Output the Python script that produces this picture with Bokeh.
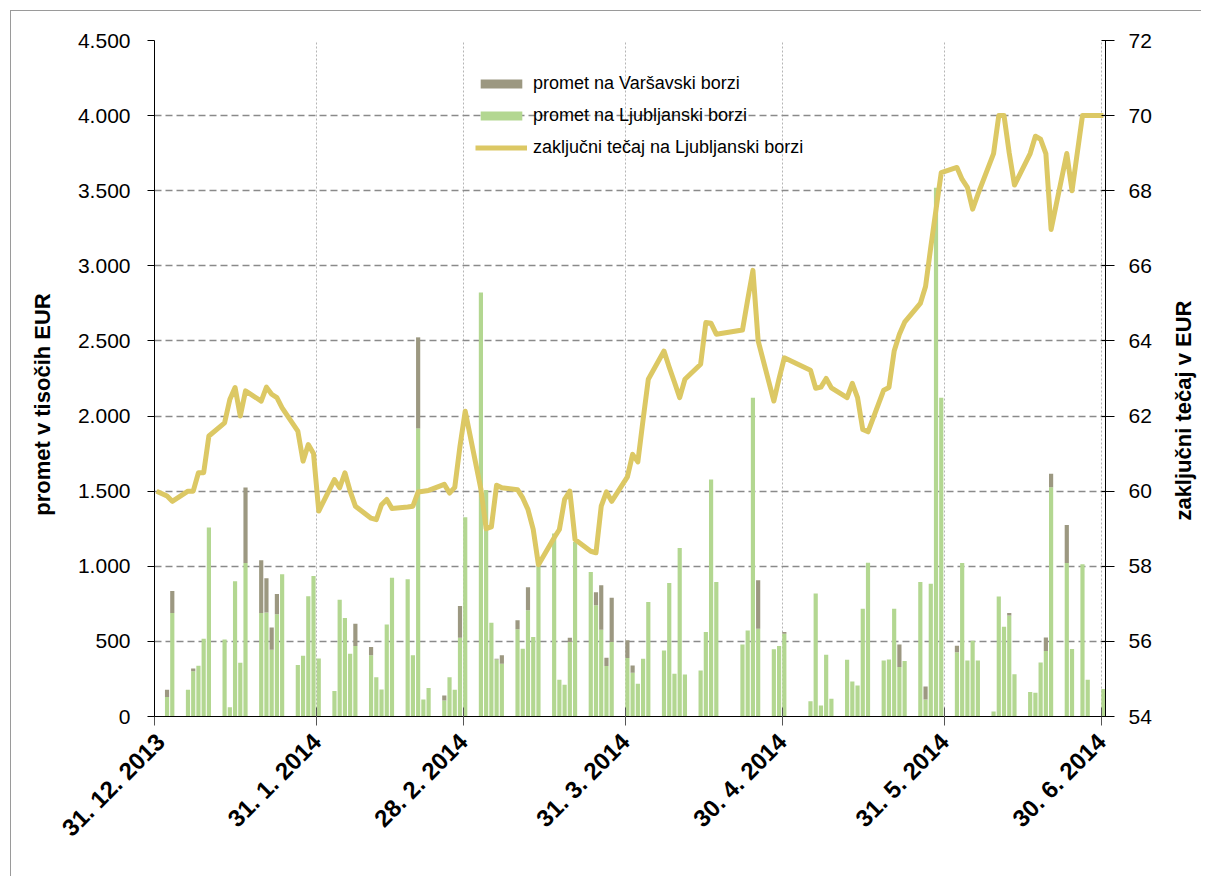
from datetime import date
from math import pi
from bokeh.plotting import figure
from bokeh.layouts import row
from bokeh.core.properties import value
from bokeh.models import (Range1d, LinearAxis, FixedTicker, Legend, LegendItem,
                          ColumnDataSource)
from bokeh.embed import file_html
from bokeh.resources import INLINE

# ---------------- data ----------------
dates = [
    "2013-12-31",
    "2014-01-02", "2014-01-03", "2014-01-06", "2014-01-07", "2014-01-08", "2014-01-09", "2014-01-10",
    "2014-01-13", "2014-01-14", "2014-01-15", "2014-01-16", "2014-01-17",
    "2014-01-20", "2014-01-21", "2014-01-22", "2014-01-23", "2014-01-24",
    "2014-01-27", "2014-01-28", "2014-01-29", "2014-01-30", "2014-01-31",
    "2014-02-03", "2014-02-04", "2014-02-05", "2014-02-06", "2014-02-07",
    "2014-02-10", "2014-02-11", "2014-02-12", "2014-02-13", "2014-02-14",
    "2014-02-17", "2014-02-18", "2014-02-19", "2014-02-20", "2014-02-21",
    "2014-02-24", "2014-02-25", "2014-02-26", "2014-02-27", "2014-02-28",
    "2014-03-03", "2014-03-04", "2014-03-05", "2014-03-06", "2014-03-07",
    "2014-03-10", "2014-03-11", "2014-03-12", "2014-03-13", "2014-03-14",
    "2014-03-17", "2014-03-18", "2014-03-19", "2014-03-20", "2014-03-21",
    "2014-03-24", "2014-03-25", "2014-03-26", "2014-03-27", "2014-03-28",
    "2014-03-31", "2014-04-01", "2014-04-02", "2014-04-03", "2014-04-04",
    "2014-04-07", "2014-04-08", "2014-04-09", "2014-04-10", "2014-04-11",
    "2014-04-14", "2014-04-15", "2014-04-16", "2014-04-17",
    "2014-04-22", "2014-04-23", "2014-04-24", "2014-04-25",
    "2014-04-28", "2014-04-29", "2014-04-30",
    "2014-05-05", "2014-05-06", "2014-05-07", "2014-05-08", "2014-05-09",
    "2014-05-12", "2014-05-13", "2014-05-14", "2014-05-15", "2014-05-16",
    "2014-05-19", "2014-05-20", "2014-05-21", "2014-05-22", "2014-05-23",
    "2014-05-26", "2014-05-27", "2014-05-28", "2014-05-29", "2014-05-30",
    "2014-06-02", "2014-06-03", "2014-06-04", "2014-06-05", "2014-06-06",
    "2014-06-09", "2014-06-10", "2014-06-11", "2014-06-12", "2014-06-13",
    "2014-06-16", "2014-06-17", "2014-06-18", "2014-06-19", "2014-06-20",
    "2014-06-23", "2014-06-24", "2014-06-26", "2014-06-27",
    "2014-06-30",
]

# promet na Ljubljanski borzi (tisoč EUR)
ljubljana = [
    0,
    129, 689, 178, 302, 338, 518, 1258,
    513, 62, 900, 358, 1022,
    689, 693, 444, 680, 947,
    342, 404, 800, 935, 386,
    169, 778, 656, 418, 469,
    407, 262, 180, 613, 924,
    913, 407, 1918, 113, 189,
    107, 262, 178, 524, 1326,
    2822, 1507, 624, 380, 351,
    580, 451, 707, 529, 1000,
    1218, 244, 211, 496, 1162,
    962, 740, 578, 336, 496,
    390, 291, 218, 384, 762,
    440, 889, 284, 1122, 280,
    307, 562, 1578, 896,
    480, 573, 2122, 584,
    447, 469, 551,
    102, 818, 73, 411, 118,
    378, 233, 207, 718, 1024,
    373, 380, 718, 329, 369,
    896, 113, 884, 3520, 2122,
    428, 1022, 373, 504, 373,
    33, 798, 597, 673, 281,
    163, 158, 360, 436, 1526,
    1022, 450, 1014, 245,
    183,
]

# promet na Varsavski borzi (tisoč EUR)
varsava = [
    0,
    49, 147, 0, 18, 0, 0, 0,
    0, 0, 0, 0, 502,
    351, 227, 149, 136, 0,
    0, 0, 0, 0, 0,
    0, 0, 0, 0, 149,
    55, 0, 0, 0, 0,
    0, 0, 606, 0, 0,
    33, 0, 0, 211, 0,
    0, 0, 0, 5, 56,
    60, 0, 153, 0, 0,
    0, 0, 0, 28, 0,
    0, 87, 295, 55, 295,
    117, 49, 0, 0, 0,
    0, 0, 0, 0, 0,
    0, 0, 0, 0,
    0, 0, 0, 323,
    0, 0, 11,
    0, 0, 0, 0, 0,
    0, 0, 0, 0, 0,
    0, 0, 0, 151, 0,
    0, 87, 0, 0, 0,
    43, 0, 0, 0, 0,
    0, 0, 0, 16, 0,
    0, 0, 0, 90, 90,
    253, 0, 0, 0,
    0,
]

# zakljucni tecaj na Ljubljanski borzi (EUR)
tecaj = [
    60.0,
    59.87, 59.73, 60.0, 60.0, 60.49, 60.49, 61.47,
    61.82, 62.44, 62.76, 62.0, 62.67,
    62.4, 62.77, 62.58, 62.49, 62.22,
    61.6, 60.8, 61.24, 61.0, 59.47,
    60.31, 60.09, 60.49, 60.0, 59.6,
    59.28, 59.24, 59.64, 59.78, 59.54,
    59.58, 59.6, 59.98, 60.0, 60.02,
    60.18, 59.95, 60.1, 61.2, 62.13,
    60.05, 59.0, 59.05, 60.16, 60.09,
    60.04, 59.82, 59.51, 58.98, 58.04,
    58.76, 58.98, 59.78, 60.0, 58.71,
    58.4, 58.36, 59.6, 59.98, 59.73,
    60.38, 60.98, 60.78, 61.9, 62.98,
    63.73, 63.3, 62.9, 62.49, 62.98,
    63.38, 64.49, 64.47, 64.18,
    64.29, 65.1, 65.88, 64.0,
    62.4, 63.0, 63.55,
    63.22, 62.74, 62.77, 63.0, 62.75,
    62.49, 62.87, 62.49, 61.64, 61.58,
    62.69, 62.76, 63.73, 64.18, 64.5,
    65.0, 65.45, 66.5, 67.5, 68.48,
    68.62, 68.3, 68.09, 67.51, 67.9,
    68.99, 70.0, 70.0, 69.0, 68.15,
    68.99, 69.45, 69.37, 68.99, 66.97,
    68.99, 68.0, 70.0, 70.0,
    70.0,
]

tick_dates = ["2013-12-31", "2014-01-31", "2014-02-28", "2014-03-31",
              "2014-04-30", "2014-05-31", "2014-06-30"]
tick_labels = ["31. 12. 2013", "31. 1. 2014", "28. 2. 2014", "31. 3. 2014",
               "30. 4. 2014", "31. 5. 2014", "30. 6. 2014"]
left_ticks = [0, 500, 1000, 1500, 2000, 2500, 3000, 3500, 4000, 4500]
right_ticks = [54, 56, 58, 60, 62, 64, 66, 68, 70, 72]

series_names = ["promet na Varšavski borzi", "promet na Ljubljanski borzi",
                "zaključni tečaj na Ljubljanski borzi"]
left_title = "promet v tisočih EUR"
right_title = "zaključni  tečaj v EUR"

# ---------------- helpers ----------------
origin = date(2013, 12, 31)


def day_offset(s):
    y, m, d = (int(t) for t in s.split("-"))
    return (date(y, m, d) - origin).days


x = [day_offset(d) + 0.4 for d in dates]
stack_top = [a + b for a, b in zip(ljubljana, varsava)]
src = ColumnDataSource(dict(x=x, lj=ljubljana, top=stack_top, price=tecaj))

tick_pos = [day_offset(d) for d in tick_dates]

FONT = "Liberation Sans"
GREEN = "#B3D791"
GRAY = "#9C9881"
GOLD = "#DCC864"
H = 865

p = figure(width=1109, height=H, output_backend="svg", toolbar_location=None,
           x_range=Range1d(0, 181.8), y_range=Range1d(0, 4500),
           min_border_left=98, min_border_right=60, min_border_top=29,
           min_border_bottom=160, outline_line_color=None,
           background_fill_color="white", border_fill_color="white")
p.extra_y_ranges = {"right": Range1d(54, 72)}

# bars
r_lj = p.vbar(x="x", width=0.8, bottom=0, top="lj", source=src,
              fill_color=GREEN, line_color=None)
r_wa = p.vbar(x="x", width=0.8, bottom="lj", top="top", source=src,
              fill_color=GRAY, line_color=None)
r_line = p.line(x="x", y="price", source=src, y_range_name="right",
                line_color=GOLD, line_width=5, line_join="round")

# x axis
xa = p.xaxis[0]
xa.ticker = FixedTicker(ticks=tick_pos)
xa.major_label_overrides = {t: l for t, l in zip(tick_pos, tick_labels)}
xa.major_label_orientation = pi / 4
xa.major_label_text_font = FONT
xa.major_label_text_font_size = "24px"
xa.major_label_text_font_style = "bold"
xa.major_label_text_color = "black"
xa.major_tick_in = 9
xa.major_tick_out = 9
xa.major_tick_line_color = "#555555"
xa.minor_tick_line_color = None
xa.axis_line_color = "black"
xa.major_label_standoff = 12

# left axis
ya = p.yaxis[0]
ya.ticker = FixedTicker(ticks=left_ticks)
ya.major_label_overrides = {v: f"{v:,}".replace(",", ".") for v in left_ticks}
ya.major_label_text_font = FONT
ya.major_label_text_font_size = "21px"
ya.major_label_text_color = "black"
ya.major_tick_in = 0
ya.major_tick_out = 7
ya.minor_tick_line_color = None
ya.axis_line_color = "black"
ya.major_label_standoff = 17

# right axis
ra = LinearAxis(y_range_name="right", ticker=FixedTicker(ticks=right_ticks))
ra.major_label_text_font = FONT
ra.major_label_text_font_size = "21px"
ra.major_label_text_color = "black"
ra.major_tick_in = 4
ra.major_tick_out = 9
ra.minor_tick_line_color = None
ra.axis_line_color = "black"
ra.major_label_standoff = 14
p.add_layout(ra, "right")

# grids
p.xgrid.ticker = FixedTicker(ticks=tick_pos)
p.xgrid.grid_line_color = "#b5b5b5"
p.xgrid.grid_line_dash = "2 2"
p.xgrid.grid_line_width = 1
p.ygrid.ticker = FixedTicker(ticks=left_ticks)
p.ygrid.grid_line_color = "#8a8a8a"
p.ygrid.grid_line_dash = "7 4"
p.ygrid.grid_line_width = 1.6

# legend
legend = Legend(items=[LegendItem(label=series_names[0], renderers=[r_wa]),
                       LegendItem(label=series_names[1], renderers=[r_lj]),
                       LegendItem(label=series_names[2], renderers=[r_line])],
                location=(321, 555), background_fill_alpha=0,
                border_line_color=None, padding=0, margin=0, spacing=4,
                glyph_width=52, glyph_height=11, label_height=28,
                label_standoff=6, label_text_font=FONT,
                label_text_font_size="18px", label_text_color="black")
p.add_layout(legend, "center")


# axis titles in narrow side panels (read bottom-to-top)
def title_panel(text, w, cx, cy):
    f = figure(width=w, height=H, frame_width=w, frame_height=H,
               output_backend="svg", toolbar_location=None,
               x_range=Range1d(0, w), y_range=Range1d(0, H),
               min_border=0, min_border_left=0, min_border_right=0,
               min_border_top=0, min_border_bottom=0, outline_line_color=None,
               x_axis_location=None, y_axis_location=None,
               background_fill_color="white", border_fill_color="white")
    f.xgrid.visible = False
    f.ygrid.visible = False
    f.text(x=[cx], y=[H - cy], text=[text], angle=pi / 2,
           text_align="center", text_baseline="middle",
           text_font=value(FONT), text_font_size="22px",
           text_font_style="bold", text_color="black")
    return f


left_panel = title_panel(left_title, 45, 31, 364)
right_panel = title_panel(right_title, 36, 18, 367)

layout = row(left_panel, p, right_panel, spacing=0)
layout.styles = {"border-left": "1px solid #9a9a9a", "border-top": "1px solid #9a9a9a",
                 "margin-left": "10px", "margin-top": "10px"}

open("out.html", "w").write(file_html(layout, INLINE))
